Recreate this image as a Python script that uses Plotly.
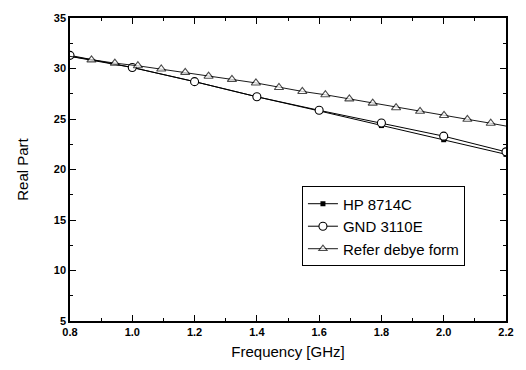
import plotly.graph_objects as go

freq_meas = [0.8, 1.0, 1.2, 1.4, 1.6, 1.8, 2.0, 2.2]
hp_8714c = [31.2, 30.1, 28.7, 27.2, 25.8, 24.35, 22.95, 21.5]
gnd_3110e = [31.3, 30.1, 28.7, 27.2, 25.86, 24.6, 23.3, 21.75]

freq_debye = [0.8, 0.869, 0.944, 1.018, 1.093, 1.170, 1.245, 1.320, 1.397, 1.471,
              1.546, 1.620, 1.697, 1.772, 1.847, 1.924, 2.001, 2.076, 2.151, 2.2]
debye = [31.2, 30.85, 30.53, 30.27, 29.95, 29.62, 29.24, 28.92, 28.57, 28.12,
         27.73, 27.4, 26.99, 26.57, 26.12, 25.76, 25.35, 24.97, 24.58, 24.3]

FONT = "Liberation Sans, Arial, sans-serif"

fig = go.Figure()
fig.add_trace(go.Scatter(
    x=freq_meas, y=hp_8714c, name="HP 8714C", mode="lines+markers",
    line=dict(color="black", width=1),
    marker=dict(symbol="square", size=5, color="black")))
fig.add_trace(go.Scatter(
    x=freq_meas, y=gnd_3110e, name="GND 3110E", mode="lines+markers",
    line=dict(color="black", width=1),
    marker=dict(symbol="circle", size=8, color="white", line=dict(width=1.1, color="black"))))
msize = [8] * len(freq_debye)
msize[0] = 0
msize[-1] = 0
fig.add_trace(go.Scatter(
    x=freq_debye, y=debye, name="Refer debye form", mode="lines+markers",
    line=dict(color="black", width=0.9),
    marker=dict(symbol="triangle-up", size=msize, color="white", line=dict(width=1.1, color="black"))))

axis_common = dict(
    showgrid=False, zeroline=False, showline=True, linecolor="black", linewidth=1.5,
    mirror="ticks", ticks="inside", ticklen=6, tickcolor="black", tickwidth=1.2,
    tickfont=dict(family=FONT, size=11, color="black", weight="bold"),
)

fig.update_xaxes(range=[0.8, 2.2], dtick=0.2, tick0=0.8, tickformat=".1f",
                 minor=dict(ticks="inside", dtick=0.1, ticklen=3, tickcolor="black"),
                 title=dict(text="Frequency [GHz]", font=dict(family=FONT, size=15, color="black"), standoff=10),
                 **axis_common)
fig.update_yaxes(range=[5, 35], dtick=5, tick0=5,
                 minor=dict(ticks="inside", dtick=2.5, ticklen=3, tickcolor="black"),
                 title=dict(text="Real Part", font=dict(family=FONT, size=15, color="black"), standoff=22),
                 **axis_common)

fig.update_layout(
    width=526, height=370,
    margin=dict(l=70, r=20, t=12, b=47),
    paper_bgcolor="white", plot_bgcolor="white",
    showlegend=True,
    legend=dict(x=0.532, y=0.444, xanchor="left", yanchor="top",
                bordercolor="black", borderwidth=1, bgcolor="white",
                font=dict(family=FONT, size=15, color="black"),
                itemwidth=30, tracegroupgap=0),
)

fig.write_html("out.html")
